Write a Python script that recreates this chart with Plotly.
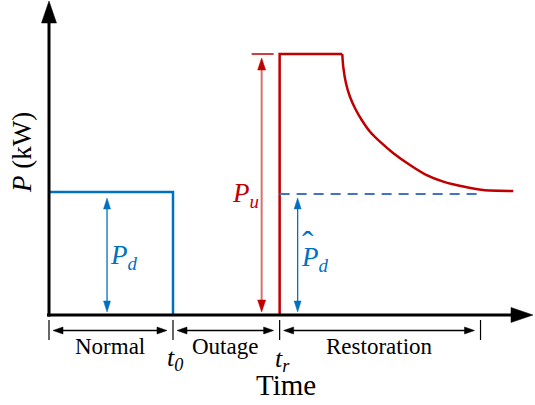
import plotly.graph_objects as go

# ---------------- data (schematic values) ----------------
T0 = 10.0          # end of normal operation (outage start)
TR = 18.6          # restoration start
T_DECAY = 23.65    # start of cold-load decay
T_REST = 34.8      # end of restoration window
T_DASH_END = 34.9  # end of dashed pre-outage demand line
P_D = 47.1         # normal demand
P_U = 100.0        # undiversified (cold load pickup) peak
P_D_HAT = 46.4     # estimated demand after restoration
curve_t = [23.65, 23.73, 23.95, 24.27, 24.68, 25.22, 25.89, 26.69, 27.77,
           29.11, 30.46, 31.80, 33.41, 35.02, 37.44]
curve_p = [100.0, 95.1, 88.8, 83.6, 79.2, 74.7, 70.2, 66.4, 62.0,
           57.5, 53.6, 51.1, 49.2, 47.9, 47.5]
phase_labels = ["Normal", "Outage", "Restoration"]
phase_bounds = [0.0, T0, TR, T_REST]

# ---------------- layout geometry ----------------
W, H = 535, 405
X0_PX, SX = 49.0, 12.4      # pixel of t=0, px per time unit
Y0_PX, SY = 315.0, 2.61     # pixel of P=0, px per kW
XR = [-X0_PX / SX, (W - X0_PX) / SX]
YR = [-(H - Y0_PX) / SY, Y0_PX / SY]

def dx(px):
    return px / SX

def dy(px):
    return px / SY

BLUE = "#0070C0"
RED = "#C00000"
RED_LIGHT = "#D87070"
DASH_BLUE = "#4472C4"
FONT = "Liberation Serif, Times New Roman, serif"

fig = go.Figure()

# blue normal-period demand
fig.add_trace(go.Scatter(x=[0, T0, T0], y=[P_D, P_D, 0], mode="lines",
                         line=dict(color=BLUE, width=2.5), hoverinfo="skip"))
# red restoration step
fig.add_trace(go.Scatter(x=[TR, TR, T_DECAY], y=[0, P_U, P_U], mode="lines",
                         line=dict(color=RED, width=2.5), hoverinfo="skip"))
# red decay curve
fig.add_trace(go.Scatter(x=curve_t, y=curve_p, mode="lines",
                         line=dict(color=RED, width=2.5, shape="spline", smoothing=0.6),
                         hoverinfo="skip"))
# dashed estimated demand
fig.add_trace(go.Scatter(x=[TR, T_DASH_END], y=[P_D_HAT, P_D_HAT], mode="lines",
                         line=dict(color=DASH_BLUE, width=2, dash="10px,7px"),
                         hoverinfo="skip"))

shapes = []

def line(x0, y0, x1, y1, color="black", width=1.3):
    shapes.append(dict(type="line", xref="x", yref="y", x0=x0, y0=y0, x1=x1, y1=y1,
                       line=dict(color=color, width=width)))

def head(t, p, direction, L, Wd, color):
    if direction == "up":
        pts = [(t, p), (t - dx(Wd / 2), p - dy(L)), (t + dx(Wd / 2), p - dy(L))]
    elif direction == "down":
        pts = [(t, p), (t - dx(Wd / 2), p + dy(L)), (t + dx(Wd / 2), p + dy(L))]
    elif direction == "right":
        pts = [(t, p), (t - dx(L), p + dy(Wd / 2)), (t - dx(L), p - dy(Wd / 2))]
    else:
        pts = [(t, p), (t + dx(L), p + dy(Wd / 2)), (t + dx(L), p - dy(Wd / 2))]
    path = "M " + " L ".join(f"{a},{b}" for a, b in pts) + " Z"
    shapes.append(dict(type="path", xref="x", yref="y", path=path,
                       fillcolor=color, line=dict(color=color, width=0.5)))

def vdarrow(t, p_lo, p_hi, shaft_color, head_color, L=11, Wd=7, lw=1.3):
    line(t, p_lo + dy(L * 0.7), t, p_hi - dy(L * 0.7), shaft_color, lw)
    head(t, p_hi, "up", L, Wd, head_color)
    head(t, p_lo, "down", L, Wd, head_color)

def hdarrow(t_lo, t_hi, p, L=10, Wd=7, lw=1.3):
    line(t_lo + dx(L * 0.7), p, t_hi - dx(L * 0.7), p, "black", lw)
    head(t_hi, p, "right", L, Wd, "black")
    head(t_lo, p, "left", L, Wd, "black")

# axes with arrow heads
AX_T_TIP = (533 - X0_PX) / SX
AX_P_TIP = (Y0_PX - 1) / SY
line(-dx(2), 0, AX_T_TIP - dx(18), 0, "black", 3)
head(AX_T_TIP, 0, "right", 22, 15, "black")
line(0, -dy(1.5), 0, AX_P_TIP - dy(18), "black", 3)
head(0, AX_P_TIP, "up", 22, 15, "black")

# Pd arrow
vdarrow(T0 * 0.468, dy(3), P_D - dy(6), BLUE, BLUE)
# Pu arrow and peak marker
line(TR - dx(28), P_U, TR - dx(6), P_U, RED, 1.5)
vdarrow(TR - dx(18), dy(3), P_U - dy(4), RED_LIGHT, RED, L=12, Wd=8, lw=2)
# hat Pd arrow
vdarrow(TR + dx(18), dy(3), P_D_HAT - dy(4), BLUE, BLUE)

# phase ticks and double arrows
for b in phase_bounds:
    line(b, -dy(5), b, -dy(25), "black", 1.2)
annotations = []
for i, lab in enumerate(phase_labels):
    a, b = phase_bounds[i] + dx(4), phase_bounds[i + 1] - dx(6)
    hdarrow(a, b, -dy(15.5))
    annotations.append(dict(x=(a + b) / 2, y=-dy(31), text=lab, showarrow=False,
                            xanchor="center", yanchor="middle",
                            font=dict(family=FONT, size=23, color="black")))

def txt(x, y, text, size, color="black", **kw):
    d = dict(x=x, y=y, xref="x", yref="y", text=text, showarrow=False,
             font=dict(family=FONT, size=size, color=color))
    d.update(kw)
    annotations.append(d)

txt(T0 + dx(2), -dy(44), "<i>t<sub>0</sub></i>", 26)
txt(TR + dx(3), -dy(45), "<i>t<sub>r</sub></i>", 26)
txt(TR + dx(6), -dy(70), "Time", 29)
annotations.append(dict(x=-dx(27), y=P_D + dy(39), xref="x", yref="y",
                        text="<i>P</i> (kW)", showarrow=False, textangle=-90,
                        font=dict(family=FONT, size=27, color="black")))
txt(T0 * 0.468 + dx(1), P_D / 2 - dy(3), "<i>P<sub>d</sub></i>", 27, BLUE, xanchor="left")
txt(TR - dx(50), P_U / 2 - dy(10), "<i>P<sub>u</sub></i>", 27, RED, xanchor="left")
txt(TR + dx(19), P_D_HAT / 2 - dy(5), "<i>P<sub>d</sub></i>", 27, BLUE, xanchor="left")
txt(TR + dx(28), P_D_HAT / 2 + dy(11), "ˆ", 34, BLUE)

fig.update_layout(
    width=W, height=H, margin=dict(l=0, r=0, t=0, b=0),
    paper_bgcolor="white", plot_bgcolor="white", showlegend=False,
    xaxis=dict(range=XR, visible=False, fixedrange=True),
    yaxis=dict(range=YR, visible=False, fixedrange=True),
    shapes=shapes, annotations=annotations,
)
fig.write_html("out.html", config={"displayModeBar": False},
               post_script="document.body.style.margin='0';")
